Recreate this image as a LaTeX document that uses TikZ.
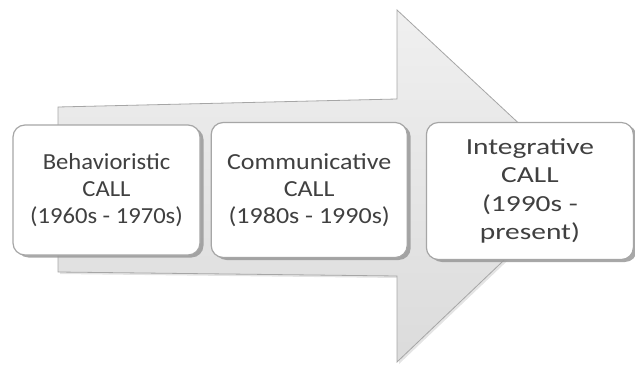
\documentclass[tikz,border=0pt]{standalone}
\usepackage{fontspec}
\setmainfont{Carlito}
% the three labels are set a little wider, each by its own amount
\newfontfamily\behavfont[FakeStretch=1.07]{Carlito}
\newfontfamily\communfont[FakeStretch=1.13]{Carlito}
\newfontfamily\integfont[FakeStretch=1.28]{Carlito}
\usetikzlibrary{positioning,shadows}

\definecolor{edgegray}{HTML}{A6A6A6}
\definecolor{textgray}{HTML}{404040}

\begin{document}
\begin{tikzpicture}[
    x=1pt,y=1pt,
    era/.style={
        draw=edgegray,
        fill=white,
        rounded corners=12pt,
        line width=1.2pt,
        align=center,
        text=textgray,
        inner sep=0pt,
        drop shadow={shadow xshift=3.5pt,shadow yshift=-2.5pt,fill=gray!80,opacity=0.85}
    },
    bigarrow/.style={
        draw=edgegray,
        line width=0.8pt,
        top color=gray!12,
        bottom color=gray!28,
        drop shadow={shadow xshift=2pt,shadow yshift=-2pt,fill=gray!35,opacity=0.6}
    }
]
\useasboundingbox (0,0) rectangle (635,365);

%------------------------------------------------
% Background arrow
%------------------------------------------------

\draw[bigarrow] (58,258) -- (397,266) -- (397,355) -- (584,181)
    -- (397,3) -- (397,89) -- (58,93) -- cycle;

%------------------------------------------------
% Eras
%------------------------------------------------

\node[era,minimum width=187pt,minimum height=130pt,
      font=\behavfont\fontsize{23}{27}\selectfont] (behav) at (106.5,175)
{Behavioristic\\CALL\\(1960s - 1970s)};

\node[era,minimum width=196pt,minimum height=135pt,right=10pt of behav,
      font=\communfont\fontsize{23}{27}\selectfont] (commun)
{Communicative\\CALL\\(1980s - 1990s)};

\node[era,minimum width=207pt,minimum height=137pt,right=18pt of commun,yshift=-1pt,
      font=\integfont\fontsize{23}{28.5}\selectfont] (integ)
{Integrative\\CALL\\(1990s -\\present)};

\end{tikzpicture}
\end{document}
